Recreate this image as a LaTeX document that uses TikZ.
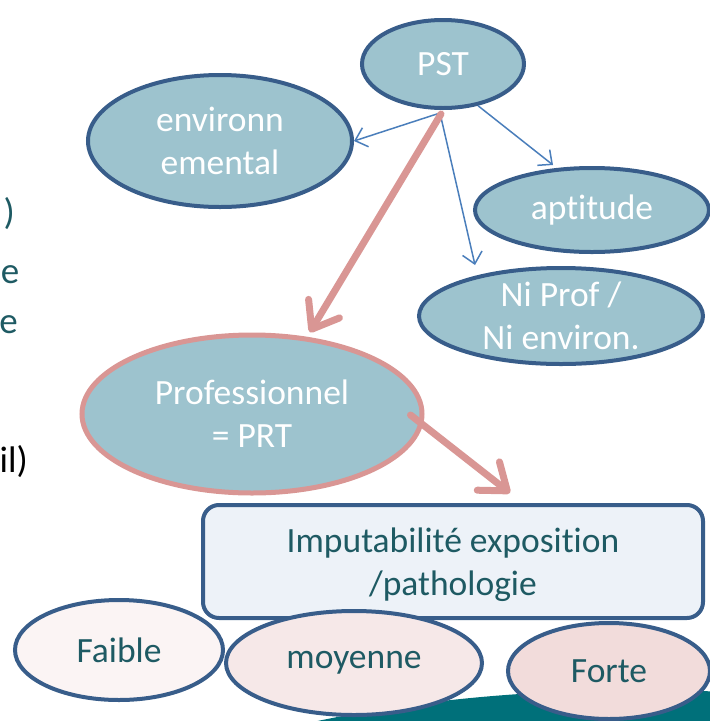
\documentclass[tikz,border=0pt]{standalone}
\usepackage{fontspec}
\setmainfont{Carlito}[Ligatures={NoCommon}]
\usetikzlibrary{arrows.meta,shapes.geometric}
\definecolor{ellfill}{HTML}{9DC3CE}
\definecolor{bord}{HTML}{385D8A}
\definecolor{pinkc}{HTML}{D99694}
\definecolor{bluearr}{HTML}{4A7EBB}
\definecolor{impfill}{HTML}{EDF2F8}
\definecolor{faiblefill}{HTML}{FBF4F4}
\definecolor{moyfill}{HTML}{F6E8E8}
\definecolor{fortefill}{HTML}{F2DCDB}
\definecolor{darkteal}{HTML}{1E5A63}
\definecolor{tealbot}{HTML}{00707A}
\begin{document}
\begin{tikzpicture}[x=1pt,y=-1pt,
  ell/.style={ellipse, draw=bord, line width=4pt, fill=ellfill, inner sep=0pt},
  pinkell/.style={ellipse, draw=pinkc, line width=5pt, fill=ellfill, inner sep=0pt},
  lvl/.style={ellipse, draw=bord, line width=4pt, inner sep=0pt},
  wtxt/.style={text=white, align=center, font=\fontsize{35.5}{43}\selectfont, inner sep=0pt},
  dtxt/.style={text=darkteal, align=center, font=\fontsize{35.5}{43}\selectfont, inner sep=0pt},
  frag/.style={anchor=base east, inner sep=0pt, font=\fontsize{37}{43}\selectfont},
  bluearrow/.style={draw=bluearr, line width=1.5pt, -{Straight Barb[length=11pt,width=20pt]}},
  pinkarrow/.style={draw=pinkc, line width=7pt, line cap=round, -{Straight Barb[length=24pt,width=36pt,round]}}
]
\useasboundingbox (0,0) rectangle (710,721);
\clip (0,0) rectangle (710,721);

% bottom teal shape
\fill[tealbot] (640,888) ellipse [x radius=600, y radius=198];

% left cut-off text fragments
\node[frag, text=darkteal] (f1) at (15,224) {)};
\node[frag, text=darkteal] (f2) at (19.5,283) {e};
\node[frag, text=darkteal] (f3) at (18,333) {e};
\node[frag, text=black] (f4) at (28,472) {il)};

% main ellipses
\node[ell, minimum width=162pt, minimum height=88pt] (pst) at (443,64) {};
\node[wtxt] (pstt) at (pst.center) {PST};

\node[ell, minimum width=264pt, minimum height=132pt] (env) at (220,141) {};
\node[wtxt] (envt) at (env.center) {environn\\emental};

\node[ell, minimum width=234pt, minimum height=84pt] (apt) at (592,210) {};
\node[wtxt] (aptt) at (apt.center) {aptitude};

\node[ell, minimum width=284pt, minimum height=96pt] (ni) at (561,316) {};
\node[wtxt] (nit) at (ni.center) {Ni Prof /\\Ni environ.};

\node[pinkell, minimum width=340pt, minimum height=158pt] (prof) at (252,414) {};
\node[wtxt] (proft) at (prof.center) {Professionnel\\= PRT};

% imputabilite box
\node[draw=bord, line width=4pt, fill=impfill, rounded corners=16pt,
      minimum width=500pt, minimum height=113pt, inner sep=0pt] (imp) at (453,561.5) {};
\node[dtxt] (impt) at ([yshift=-3pt]imp.center) {Imputabilité exposition\\/pathologie};

% levels
\node[lvl, fill=faiblefill, minimum width=208pt, minimum height=100pt] (fai) at (119,650) {};
\node[dtxt] (fait) at (fai.center) {Faible};
\node[lvl, fill=moyfill, minimum width=256pt, minimum height=104pt] (moy) at (354,663) {};
\node[dtxt] (moyt) at (moy.center) {moyenne};
\node[lvl, fill=fortefill, minimum width=202pt, minimum height=96pt] (for) at (609,671) {};
\node[dtxt] (fort) at (for.center) {Forte};

% blue arrows
\draw[bluearrow] ([xshift=-3pt,yshift=-3pt]pst.south) -- (env.east);
\draw[bluearrow] ([xshift=-3pt,yshift=-3pt]pst.south) -- ([xshift=-86pt,yshift=1pt]ni.north);
\draw[bluearrow] (pst.-50) -- ([xshift=-39pt,yshift=1pt]apt.north);

% pink arrows
\draw[pinkarrow] ([xshift=-2pt,yshift=-4pt]pst.south) -- ([yshift=5pt]prof.53);
\draw[pinkarrow] ([xshift=-14pt,yshift=-1pt]prof.east) -- ([xshift=57pt,yshift=10pt]imp.north);
\end{tikzpicture}
\end{document}
